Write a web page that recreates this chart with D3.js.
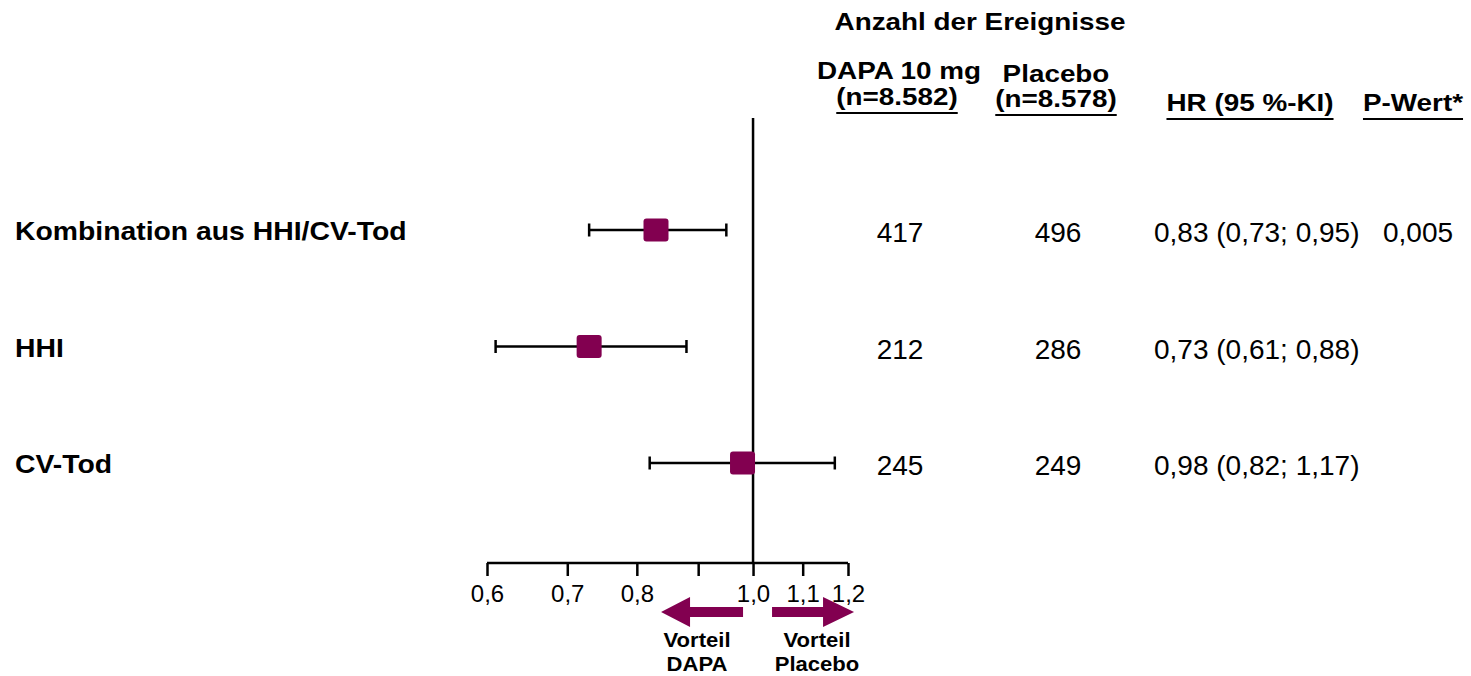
<!DOCTYPE html>
<html>
<head>
<meta charset="utf-8">
<script src="https://cdn.jsdelivr.net/npm/d3@7"></script>
<style>
  html, body { margin: 0; padding: 0; background: #fff; }
  svg { display: block; }
  text { font-family: "Liberation Sans", Arial, sans-serif; fill: #000; }
</style>
</head>
<body>
<svg id="chart" width="1471" height="676"></svg>
<script>
// Endpoints and results
const outcomes = ["Kombination aus HHI/CV-Tod", "HHI", "CV-Tod"];
const hr = [0.83, 0.73, 0.98];
const ciLow = [0.73, 0.61, 0.82];
const ciHigh = [0.95, 0.88, 1.17];
const eventsDapa = [417, 212, 245];
const eventsPlacebo = [496, 286, 249];
const pValues = ["0,005", "", ""];

// Axis ticks
const tickValues = [0.6, 0.7, 0.8, 0.9, 1.0, 1.1, 1.2];
const tickLabels = ["0,6", "0,7", "0,8", "", "1,0", "1,1", "1,2"];

const accent = "#820050";
const svg = d3.select("#chart");

const x = d3.scaleLog().domain([0.6, 1.2]).range([487, 848]);
const y = d3.scalePoint().domain(outcomes).range([230, 463]);
const axisY = 563;
const fmt = v => v.toFixed(2).replace(".", ",");

// Widen a text horizontally by a factor, keeping its anchor
function stretch(sel, factor) {
  sel.each(function () {
    const w = this.getComputedTextLength();
    d3.select(this).attr("textLength", w * factor).attr("lengthAdjust", "spacingAndGlyphs");
  });
  return sel;
}

// Column headers
function header(txt, xPos, yPos, underline) {
  const t = svg.append("text")
    .attr("x", xPos).attr("y", yPos)
    .attr("text-anchor", "middle")
    .attr("font-size", 24).attr("font-weight", "bold")
    .text(txt);
  stretch(t, 1.16);
  if (underline) {
    const w = +t.attr("textLength");
    svg.append("line")
      .attr("x1", xPos - w / 2).attr("x2", xPos + w / 2)
      .attr("y1", yPos + 8).attr("y2", yPos + 8)
      .attr("stroke", "#000").attr("stroke-width", 2);
  }
}
header("Anzahl der Ereignisse", 980, 30, false);
header("DAPA 10 mg", 899, 79, false);
header("(n=8.582)", 897, 105, true);
header("Placebo", 1056, 82, false);
header("(n=8.578)", 1056, 107, true);
header("HR (95 %-KI)", 1250, 111, true);
header("P-Wert*", 1413, 111, true);

// Row labels
svg.append("g").selectAll("text").data(outcomes).join("text")
  .attr("x", 15).attr("y", d => y(d) + 10)
  .attr("font-size", 26).attr("font-weight", "bold")
  .text(d => d)
  .call(s => stretch(s, 1.09));

// Reference line at HR = 1
svg.append("line")
  .attr("x1", x(1)).attr("x2", x(1))
  .attr("y1", 118).attr("y2", axisY)
  .attr("stroke", "#000").attr("stroke-width", 2.5);

// X axis
const axis = d3.axisBottom(x)
  .tickValues(tickValues)
  .tickFormat((d, i) => tickLabels[i])
  .tickSize(13)
  .tickPadding(9);
const gAxis = svg.append("g").attr("transform", `translate(0,${axisY})`).call(axis);
gAxis.select(".domain").attr("stroke", "#000").attr("stroke-width", 2.5)
  .attr("d", `M${x(0.6)},0H${x(1.2)}`);
gAxis.selectAll(".tick line").attr("stroke", "#000").attr("stroke-width", 2.5);
gAxis.selectAll(".tick text")
  .attr("font-family", "'Liberation Sans', Arial, sans-serif")
  .attr("font-size", 24).attr("fill", "#000");

// Confidence intervals
const rows = outcomes.map((o, i) => ({ o, hr: hr[i], lo: ciLow[i], hi: ciHigh[i] }));
const gCI = svg.append("g").attr("stroke", "#000").attr("stroke-width", 2.5);
gCI.selectAll("line.ci").data(rows).join("line").attr("class", "ci")
  .attr("x1", d => x(d.lo)).attr("x2", d => x(d.hi))
  .attr("y1", d => y(d.o)).attr("y2", d => y(d.o));
gCI.selectAll("line.capL").data(rows).join("line").attr("class", "capL")
  .attr("x1", d => x(d.lo)).attr("x2", d => x(d.lo))
  .attr("y1", d => y(d.o) - 6.5).attr("y2", d => y(d.o) + 6.5);
gCI.selectAll("line.capR").data(rows).join("line").attr("class", "capR")
  .attr("x1", d => x(d.hi)).attr("x2", d => x(d.hi))
  .attr("y1", d => y(d.o) - 6.5).attr("y2", d => y(d.o) + 6.5);

// Point estimates
svg.append("g").selectAll("rect").data(rows).join("rect")
  .attr("x", d => x(d.hr) - 12.5).attr("y", d => y(d.o) - 11.5)
  .attr("width", 25).attr("height", 23)
  .attr("rx", 3).attr("fill", accent);

// Event counts, HR and p-values
const gVals = svg.append("g").attr("font-size", 28);
gVals.selectAll("text.dapa").data(outcomes).join("text").attr("class", "dapa")
  .attr("x", 900).attr("y", d => y(d) + 12).attr("text-anchor", "middle")
  .text((d, i) => eventsDapa[i]);
gVals.selectAll("text.plac").data(outcomes).join("text").attr("class", "plac")
  .attr("x", 1058).attr("y", d => y(d) + 12).attr("text-anchor", "middle")
  .text((d, i) => eventsPlacebo[i]);
gVals.selectAll("text.hr").data(rows).join("text").attr("class", "hr")
  .attr("x", 1154).attr("y", d => y(d.o) + 12)
  .text(d => `${fmt(d.hr)} (${fmt(d.lo)}; ${fmt(d.hi)})`);
gVals.selectAll("text.p").data(outcomes).join("text").attr("class", "p")
  .attr("x", 1383).attr("y", d => y(d) + 12)
  .text((d, i) => pValues[i]);

// Direction arrows below the axis
const x1 = x(1), ay = 612;
function arrow(tail, tip, headLen) {
  const dir = Math.sign(tip - tail);
  const base = tip - dir * headLen;
  svg.append("path")
    .attr("d", `M${tail},${ay - 5}L${base},${ay - 5}L${base},${ay - 15}L${tip},${ay}` +
               `L${base},${ay + 15}L${base},${ay + 5}L${tail},${ay + 5}Z`)
    .attr("fill", accent);
}
arrow(x1 - 10, x1 - 92, 29);
arrow(x1 + 19, x1 + 101, 31);

const gNote = svg.append("g").attr("font-size", 21).attr("font-weight", "bold")
  .attr("text-anchor", "middle");
gNote.append("text").attr("x", x1 - 56).attr("y", 647).text("Vorteil");
gNote.append("text").attr("x", x1 - 56).attr("y", 671).text("DAPA");
gNote.append("text").attr("x", x1 + 64).attr("y", 647).text("Vorteil");
gNote.append("text").attr("x", x1 + 64).attr("y", 671).text("Placebo");
gNote.selectAll("text").call(s => stretch(s, 1.05));
</script>
</body>
</html>
